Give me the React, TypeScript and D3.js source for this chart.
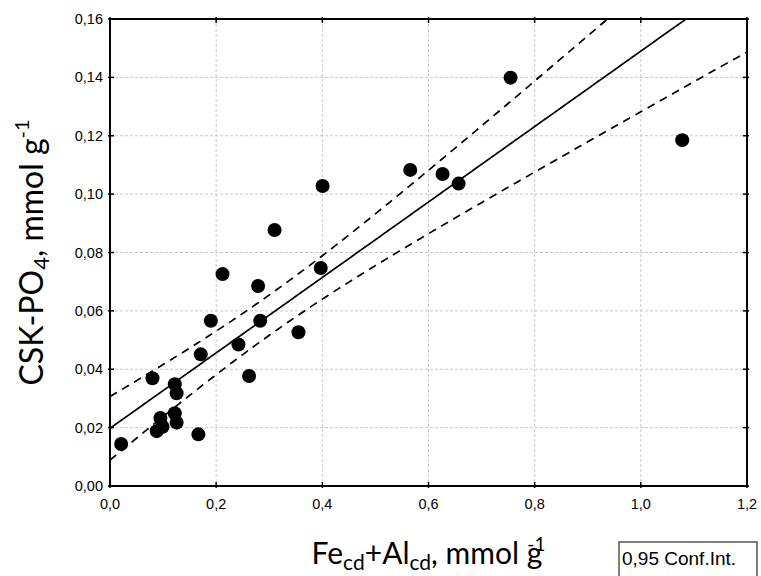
import React from "react";
import * as d3 from "d3";

const xValues = [0.021, 0.080, 0.088, 0.099, 0.095, 0.122, 0.1255, 0.122, 0.1255, 0.1665, 0.171, 0.190, 0.212, 0.242, 0.262, 0.279, 0.283, 0.310, 0.355, 0.397, 0.4005, 0.5656, 0.6265, 0.6567, 0.7546, 1.078];
const yValues = [0.0144, 0.0369, 0.0188, 0.0203, 0.0233, 0.0249, 0.0217, 0.0349, 0.0318, 0.0177, 0.0451, 0.0566, 0.0726, 0.0485, 0.0377, 0.0685, 0.0566, 0.0877, 0.0527, 0.0747, 0.1028, 0.1083, 0.1069, 0.1036, 0.1399, 0.1185];
const xTicks = [0, 0.2, 0.4, 0.6, 0.8, 1.0, 1.2];
const yTicks = [0, 0.02, 0.04, 0.06, 0.08, 0.1, 0.12, 0.14, 0.16];
const tCrit = 2.064;

const W = 761, H = 576;
const L = 110, R = 747, T = 19, B = 486;

export default function App() {
  const x = d3.scaleLinear().domain([0, 1.2]).range([L, R]);
  const y = d3.scaleLinear().domain([0, 0.16]).range([B, T]);

  const n = xValues.length;
  const mx = d3.mean(xValues)!;
  const my = d3.mean(yValues)!;
  let sxx = 0, sxy = 0;
  for (let i = 0; i < n; i++) {
    sxx += (xValues[i] - mx) ** 2;
    sxy += (xValues[i] - mx) * (yValues[i] - my);
  }
  const b = sxy / sxx;
  const a = my - b * mx;
  let sse = 0;
  for (let i = 0; i < n; i++) sse += (yValues[i] - a - b * xValues[i]) ** 2;
  const s = Math.sqrt(sse / (n - 2));
  const grid = d3.range(0, 1.2001, 0.005);
  const hw = (v: number) => tCrit * s * Math.sqrt(1 / n + (v - mx) ** 2 / sxx);

  const line = d3.line<[number, number]>().x(d => x(d[0])).y(d => y(d[1]));
  const fitPts: [number, number][] = grid.map(v => [v, a + b * v]);
  const upPts: [number, number][] = grid.map(v => [v, a + b * v + hw(v)]);
  const loPts: [number, number][] = grid.map(v => [v, a + b * v - hw(v)]);

  const fmt = (v: number, d: number) => v.toFixed(d).replace(".", ",");
  const tickFont = "'Liberation Sans', Arial, sans-serif";
  const titleFont = "Lato, 'Open Sans', sans-serif";

  return (
    <svg width={W} height={H} style={{ position: "absolute", left: 0, top: 0 }}>
      <defs>
        <clipPath id="plotclip">
          <rect x={L} y={T} width={R - L} height={B - T} />
        </clipPath>
      </defs>
      <rect x={0} y={0} width={W} height={H} fill="#fff" />
      {xTicks.slice(1, -1).map(t => (
        <line key={"gx" + t} x1={x(t)} x2={x(t)} y1={T} y2={B} stroke="#c8c8c8" strokeDasharray="3,2" strokeWidth={1} />
      ))}
      {yTicks.slice(1, -1).map(t => (
        <line key={"gy" + t} x1={L} x2={R} y1={y(t)} y2={y(t)} stroke="#c8c8c8" strokeDasharray="3,2" strokeWidth={1} />
      ))}
      <g clipPath="url(#plotclip)">
        <path d={line(fitPts)!} fill="none" stroke="#000" strokeWidth={1.7} />
        <path d={line(upPts)!} fill="none" stroke="#000" strokeWidth={1.7} strokeDasharray="8,6" />
        <path d={line(loPts)!} fill="none" stroke="#000" strokeWidth={1.7} strokeDasharray="8,6" />
      </g>
      {xValues.map((v, i) => (
        <circle key={"p" + i} cx={x(v)} cy={y(yValues[i])} r={7} fill="#000" />
      ))}
      <rect x={L} y={T} width={R - L} height={B - T} fill="none" stroke="#000" strokeWidth={2} />
      {xTicks.map(t => (
        <g key={"tx" + t}>
          <line x1={x(t)} x2={x(t)} y1={B + 2} y2={B - 4} stroke="#000" strokeWidth={1.5} />
          <line x1={x(t)} x2={x(t)} y1={T - 2} y2={T + 4} stroke="#000" strokeWidth={1.5} />
          <text x={x(t)} y={509} textAnchor="middle" fontFamily={tickFont} fontSize={14.5} fill="#000">{fmt(t, 1)}</text>
        </g>
      ))}
      {yTicks.map(t => (
        <g key={"ty" + t}>
          <line x1={L - 2} x2={L + 4} y1={y(t)} y2={y(t)} stroke="#000" strokeWidth={1.5} />
          <line x1={R + 2} x2={R - 4} y1={y(t)} y2={y(t)} stroke="#000" strokeWidth={1.5} />
          <text x={103} y={y(t) + 5} textAnchor="end" fontFamily={tickFont} fontSize={14.5} fill="#000">{fmt(t, 2)}</text>
        </g>
      ))}
      <text x={(L + R) / 2} y={564} textAnchor="middle" fontFamily={titleFont} fontSize={30} fill="#000">
        Fe<tspan fontSize={21} dy={6}>cd</tspan><tspan dy={-6}>+Al</tspan><tspan fontSize={21} dy={6}>cd</tspan><tspan dy={-6}>, mmol g</tspan><tspan fontSize={19} dx={-15} dy={-13}>-1</tspan>
      </text>
      <text transform={`translate(43,${(T + B) / 2}) rotate(-90)`} textAnchor="middle" fontFamily={titleFont} fontSize={32} fill="#000">
        CSK-PO<tspan fontSize={22} dy={6}>4</tspan><tspan dy={-6}>, mmol g</tspan><tspan fontSize={20} dy={-14}>-1</tspan>
      </text>
      <rect x={619} y={542} width={138} height={40} fill="#fff" stroke="#000" strokeWidth={1} />
      <text x={622} y={565} fontFamily={tickFont} fontSize={19} fill="#000">0,95 Conf.Int.</text>
    </svg>
  );
}
